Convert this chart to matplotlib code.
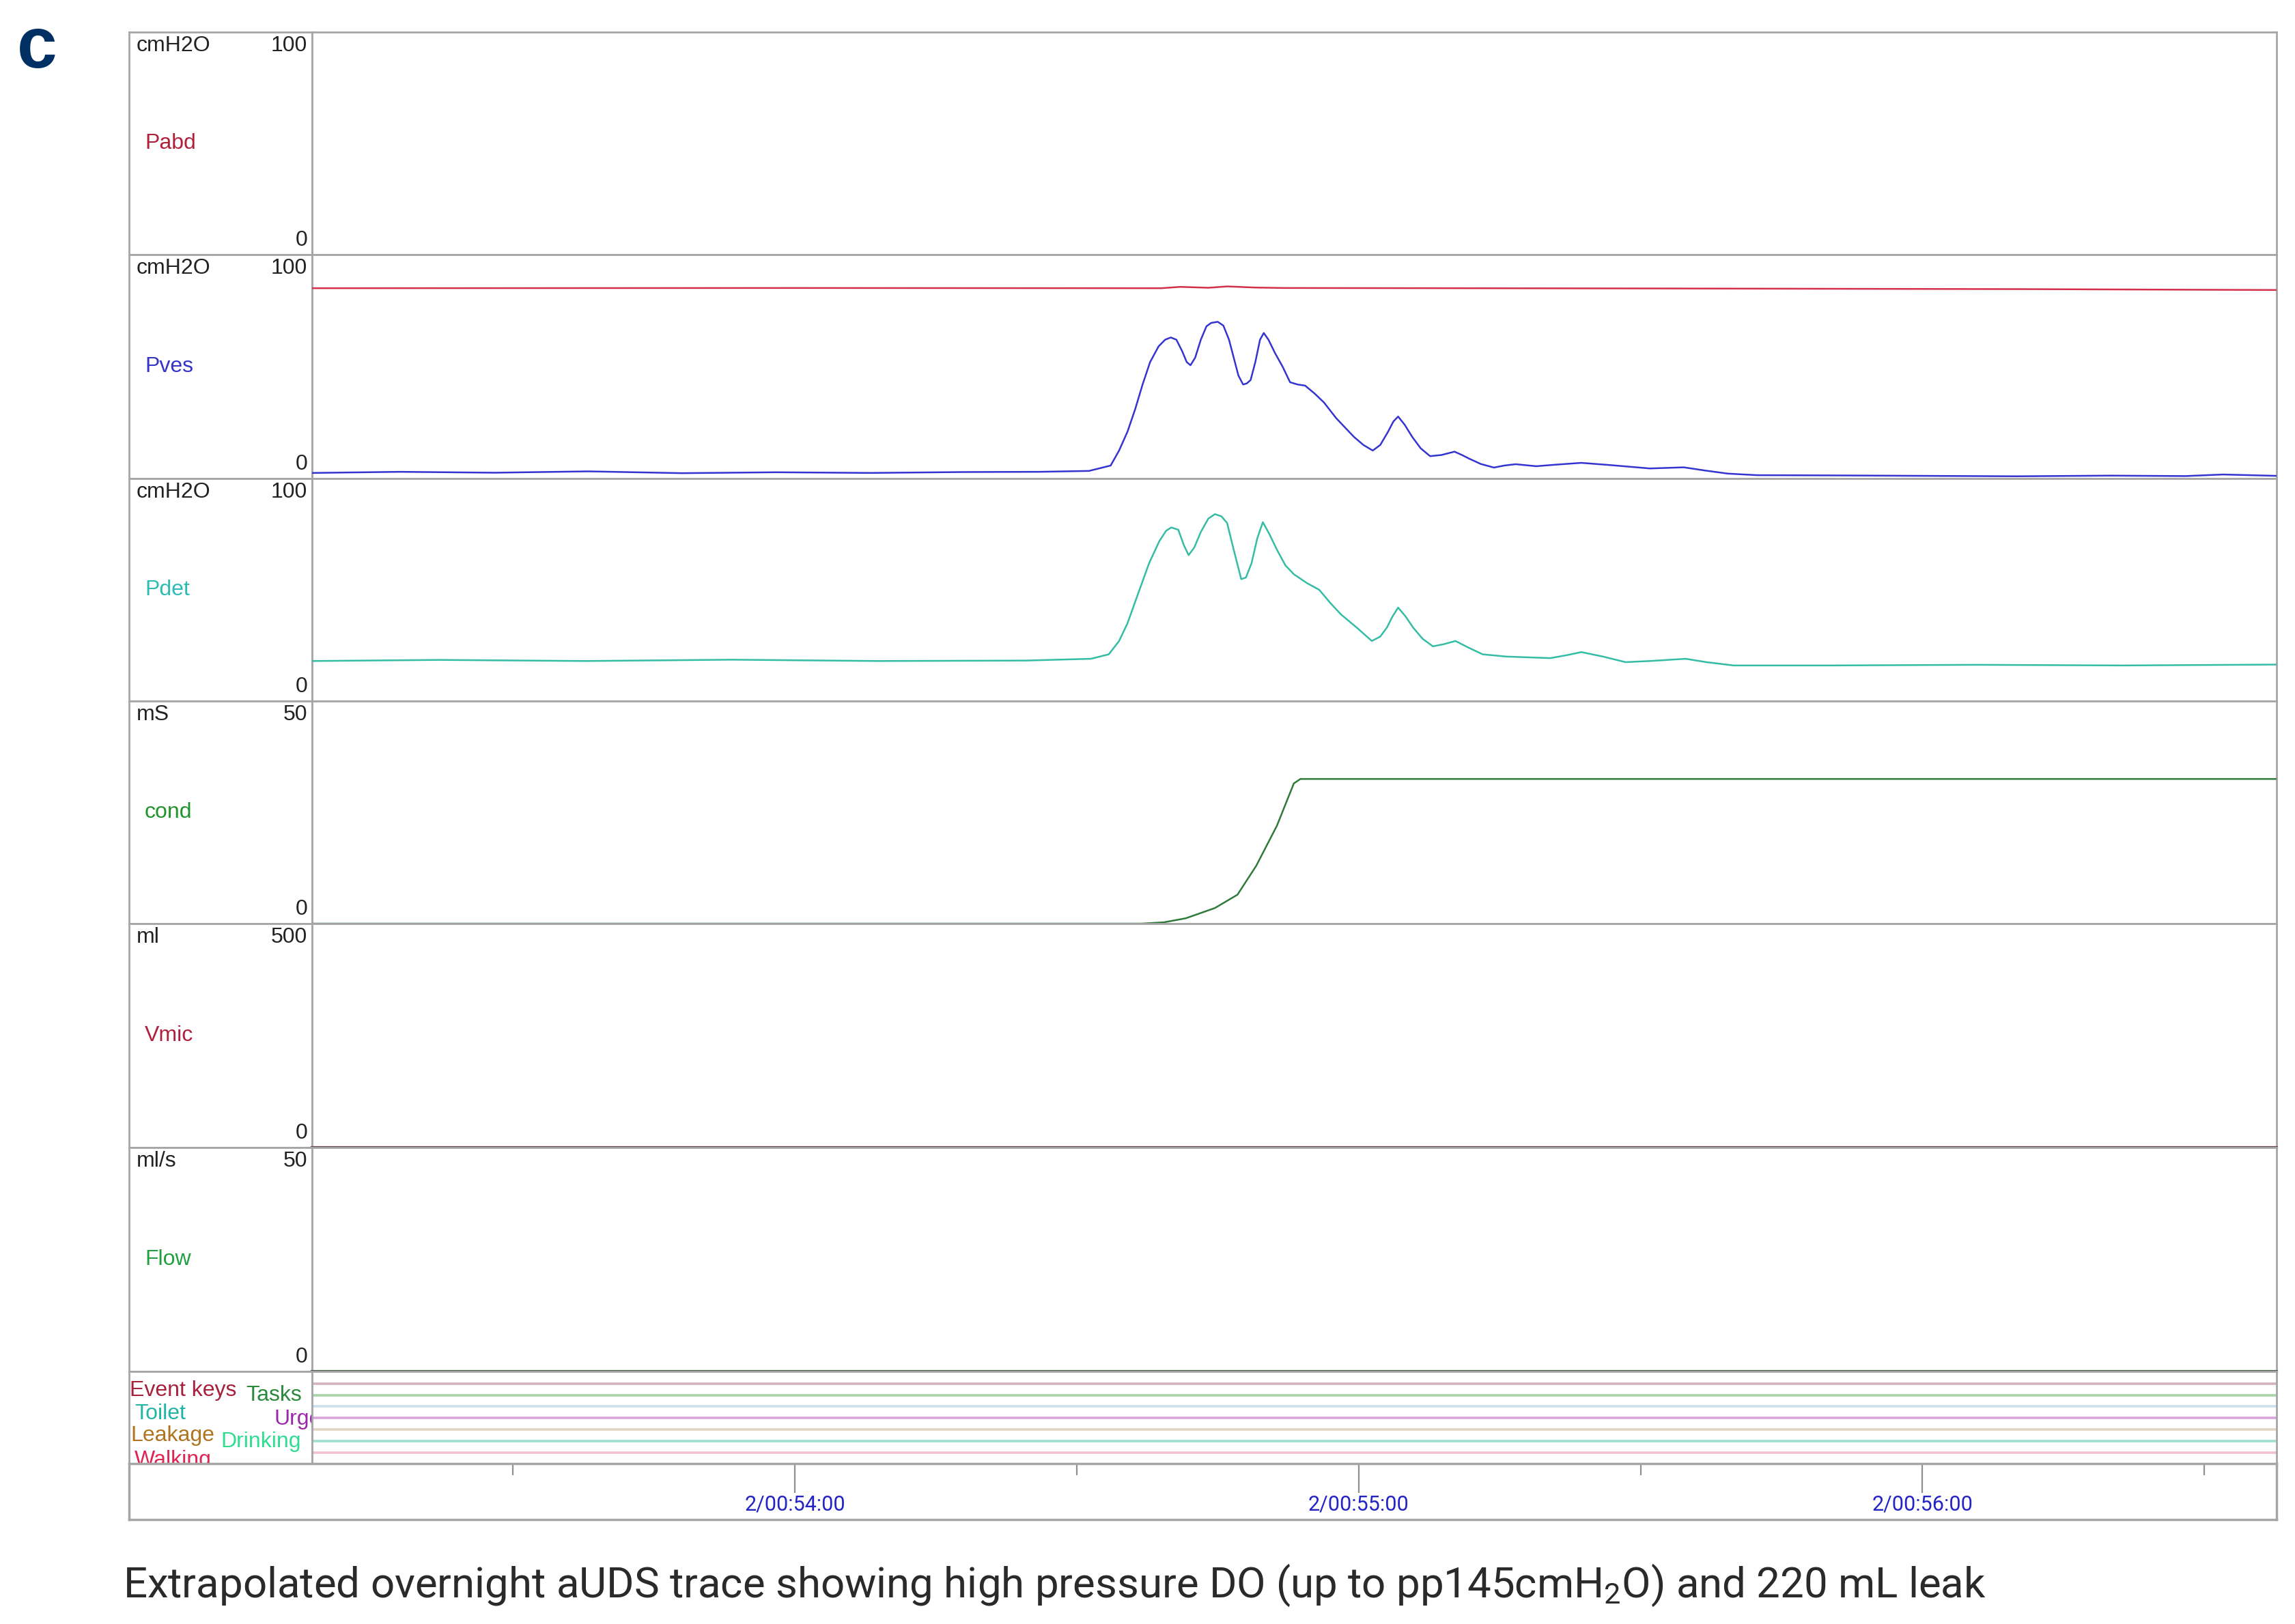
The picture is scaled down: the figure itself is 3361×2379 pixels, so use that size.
import matplotlib
matplotlib.use('Agg')
import matplotlib.pyplot as plt
import matplotlib.transforms as mtransforms
from matplotlib import font_manager

# time axis: seconds after 2/00:53:00
t_left, t_right = 8.6, 217.7
time_ticks = [60, 120, 180]
time_minor = [30, 90, 150, 210]
time_labels = ['2/00:54:00', '2/00:55:00', '2/00:56:00']

# channel header texts
units = ['cmH2O', 'cmH2O', 'cmH2O', 'mS', 'ml', 'ml/s']
names = ['Pabd', 'Pves', 'Pdet', 'cond', 'Vmic', 'Flow']
top_vals = [100, 100, 100, 50, 500, 50]
name_colors = ['#b0203a', '#3434c8', '#2cbcb4', '#20942a', '#b0203e', '#22a040']

# red line running along the top of the Pves channel
red_t = [8.6, 60, 99, 101, 104, 106, 109, 112, 150, 190, 217.7]
red_v = [85, 85.1, 85, 85.6, 85.2, 85.8, 85.3, 85.1, 84.9, 84.6, 84.2]

pves_t = [8.6, 18, 28, 38, 48, 58, 68, 78, 86, 91.3, 93.6, 94.5, 95.4, 96.2, 97.0,
          97.8, 98.7, 99.4, 100.0, 100.6, 101.2, 101.7, 102.1, 102.6, 103.2, 103.8,
          104.3, 105.0, 105.6, 106.2, 106.7, 107.2, 107.7, 108.1, 108.5, 109.0, 109.5,
          109.9, 110.4, 111.1, 111.9, 112.7, 113.5, 114.3, 115.3, 116.3, 117.6, 118.5,
          119.5, 120.5, 121.5, 122.3, 123.1, 123.7, 124.2, 124.9, 125.7, 126.6, 127.6,
          128.8, 130.2, 131.0, 131.8, 133.0, 134.4, 135.5, 136.7, 138.9, 141.0, 143.7,
          146.8, 151, 154.6, 157, 159.3, 162.4, 170, 180, 190, 200, 208, 212, 217.7]
pves_v = [2.5, 3.0, 2.6, 3.2, 2.4, 2.8, 2.5, 2.9, 3.0, 3.4, 5.8, 12.5, 21, 30.8, 42,
          52, 59, 62, 63, 62, 57, 52, 50.6, 54, 62, 68,
          69.5, 70, 68.3, 62, 54, 46, 42, 42.5, 44, 52, 62,
          65, 62, 56, 50, 43, 42, 41.5, 38, 34, 27, 23,
          18.6, 15, 12.5, 15, 20.7, 25.5, 27.7, 24, 18.6, 13.5, 10,
          10.5, 12, 10.5, 8.8, 6.5, 4.9, 5.8, 6.4, 5.5, 6.2, 7,
          6, 4.5, 5, 3.5, 2.2, 1.5, 1.4, 1.2, 1.0, 1.3, 1.1, 1.8, 1.2]

pdet_t = [8.6, 22.1, 37.7, 53.3, 68.9, 84.5, 91.5, 93.4, 94.5, 95.4, 96.5, 97.7, 98.8,
          99.5, 100.05, 100.8, 101.4, 101.9, 102.5, 103.2, 104.0, 104.7, 105.4, 106.0,
          106.7, 107.5, 108.0, 108.6, 109.2, 109.8, 110.5, 111.3, 112.2, 113.1, 114.5,
          115.8, 117.0, 118.1, 119.8, 121.4, 122.3, 123.0, 123.6, 124.2, 125.0, 125.8,
          126.8, 127.9, 129.0, 130.3, 131.7, 133.2, 135.7, 140.4, 142.0, 143.7, 146.0,
          148.4, 151.0, 154.8, 157.0, 159.9, 170.2, 185.8, 201.3, 217.7]
pdet_v = [18, 18.5, 18, 18.6, 18, 18.2, 19, 21, 27, 35, 48, 62, 72,
          76.5, 78, 77, 70, 65.6, 69, 76, 82, 84, 83, 80,
          68, 54.8, 55.5, 62, 73, 80.4, 75, 68, 61, 57, 53,
          50, 44, 39, 33, 27, 29, 33, 38, 42, 38, 33,
          28, 24.6, 25.5, 27, 24, 21, 20, 19.3, 20.5, 22, 20,
          17.5, 18, 19, 17.5, 16, 16, 16.3, 16, 16.4]

cond_t = [8.6, 96.9, 99.3, 101.6, 104.7, 107.1, 109.1, 111.3, 113.1, 113.8, 217.7]
cond_v = [0, 0, 0.3, 1.2, 3.5, 6.5, 13, 22, 31.5, 32.5, 32.5]

vmic_t = [8.6, 217.7]
vmic_v = [0, 0]
flow_t = [8.6, 217.7]
flow_v = [0, 0]

event_names = ['Event keys', 'Tasks', 'Toilet', 'Urge', 'Leakage', 'Drinking', 'Walking']
event_text_colors = ['#a8203c', '#2a8a3a', '#22b4a4', '#9a28a8', '#b07420', '#30dc90', '#e02454']
event_line_colors = ['#d4b4bc', '#a8d4a8', '#cce0ec', '#d8a8dc', '#e0d6c4', '#9ee0d0', '#f2c0d0']
event_values = [0, 0, 0, 0, 0, 0, 0]

caption = ('Extrapolated overnight aUDS trace showing high pressure DO '
           '(up to pp145cmH$_2$O) and 220 mL leak')

available = {f.name for f in font_manager.fontManager.ttflist}
narrow = 'Liberation Sans Narrow' if 'Liberation Sans Narrow' in available else 'Roboto'
plain = 'Liberation Sans' if 'Liberation Sans' in available else 'DejaVu Sans'
plt.rcParams['font.family'] = [plain, 'DejaVu Sans']
plt.rcParams['mathtext.default'] = 'regular'

W, H = 3362, 2379
fig = plt.figure(figsize=(W / 100, H / 100), dpi=100)
GRAY = '#a6a6a6'


def fx(px):
    return px / W


def box(x0, x1, y0, y1):
    # pixel box (top y0, bottom y1) -> figure rect
    return [x0 / W, 1 - y1 / H, (x1 - x0) / W, (y1 - y0) / H]


def style(ax):
    for s in ax.spines.values():
        s.set_color(GRAY)
        s.set_linewidth(2)
    ax.set_xticks([])
    ax.set_yticks([])


x_frame, x_sep, x_right = 189, 457, 3334
rows = [47, 373, 701, 1027, 1353, 1681, 2009]

traces = [
    [],
    [(red_t, red_v, '#d4304c'), (pves_t, pves_v, '#3434d0')],
    [(pdet_t, pdet_v, '#34bca4')],
    [(cond_t, cond_v, '#2f7a3a')],
    [(vmic_t, vmic_v, '#6a4a55')],
    [(flow_t, flow_v, '#4a624a')],
]

for i in range(6):
    top, bot = rows[i], rows[i + 1]
    lab = fig.add_axes(box(x_frame, x_sep, top, bot))
    style(lab)
    lab.text(0.04, 0.94, units[i], transform=lab.transAxes, ha='left', va='center',
             fontsize=23, color='#222222')
    lab.text(0.975, 0.94, str(top_vals[i]), transform=lab.transAxes, ha='right',
             va='center', fontsize=23, color='#222222')
    lab.text(0.975, 0.065, '0', transform=lab.transAxes, ha='right', va='center',
             fontsize=23, color='#222222')
    lab.text(0.086, 0.5, names[i], transform=lab.transAxes, ha='left', va='center',
             fontsize=23, color=name_colors[i])

    ax = fig.add_axes(box(x_sep, x_right, top, bot))
    style(ax)
    ax.set_xlim(t_left, t_right)
    ax.set_ylim(0, top_vals[i])
    for t, v, c in traces[i]:
        flat = max(v) == 0
        ax.plot(t, v, color=c, lw=3 if flat else 1.8, clip_on=not flat, zorder=3)

# event channels
ev_lab = fig.add_axes(box(x_frame, x_sep, rows[-1], 2144))
style(ev_lab)
ev_pos = [(0.005, 0.79, 'left'), (0.64, 0.74, 'left'), (0.03, 0.54, 'left'),
          (1.05, 0.48, 'right'), (0.01, 0.30, 'left'), (0.5, 0.24, 'left'),
          (0.03, 0.04, 'left')]
for name, c, (px, py, ha) in zip(event_names, event_text_colors, ev_pos):
    ev_lab.text(px, py, name, transform=ev_lab.transAxes, ha=ha, va='center',
                fontsize=23, color=c, clip_on=True)

ev_ax = fig.add_axes(box(x_sep, x_right, rows[-1], 2144))
style(ev_ax)
ev_ax.set_xlim(t_left, t_right)
n_ev = len(event_names)
ev_ax.set_ylim(-0.95, n_ev + 0.05)
for k, (v, c) in enumerate(zip(event_values, event_line_colors)):
    level = n_ev - 1 - k + v
    ev_ax.plot([t_left, t_right], [level, level], color=c, lw=2.6)

# time axis row
px_per_s = (x_right - x_sep) / (t_right - t_left)
tax = fig.add_axes(box(x_frame, x_right, 2144, 2226))
for s in tax.spines.values():
    s.set_color(GRAY)
    s.set_linewidth(2.5)
tax.set_xlim(t_left - (x_sep - x_frame) / px_per_s, t_right)
tax.set_yticks([])
tax.set_xticks(time_ticks)
tax.set_xticks(time_minor, minor=True)
tax.tick_params(axis='x', which='both', top=True, bottom=False, direction='in',
                labelbottom=False, labeltop=False, color='#909090', width=1.6)
tax.tick_params(axis='x', which='major', length=31)
tax.tick_params(axis='x', which='minor', length=12)
trans = mtransforms.blended_transform_factory(tax.transData, tax.transAxes)
for t, lbl in zip(time_ticks, time_labels):
    tax.text(t, 0.27, lbl, transform=trans, ha='center', va='center', fontsize=22,
             color='#2424c4', family=[narrow, 'DejaVu Sans'])

# panel letter and caption
fig.text(fx(54), 1 - 72 / H, 'c', fontsize=76, fontweight='bold', color='#003063',
         ha='center', va='center')
cap = fig.text(fx(180), 1 - 2322 / H, caption, fontsize=50, color='#2a2a2a',
               ha='left', va='center', family=[narrow, 'DejaVu Sans'])
# shrink the caption until it spans the same width as in the original
renderer = fig.canvas.get_renderer()
width = cap.get_window_extent(renderer).width
cap.set_fontsize(50 * 2732 / width)

fig.savefig('out.png', dpi=100, facecolor='white')
